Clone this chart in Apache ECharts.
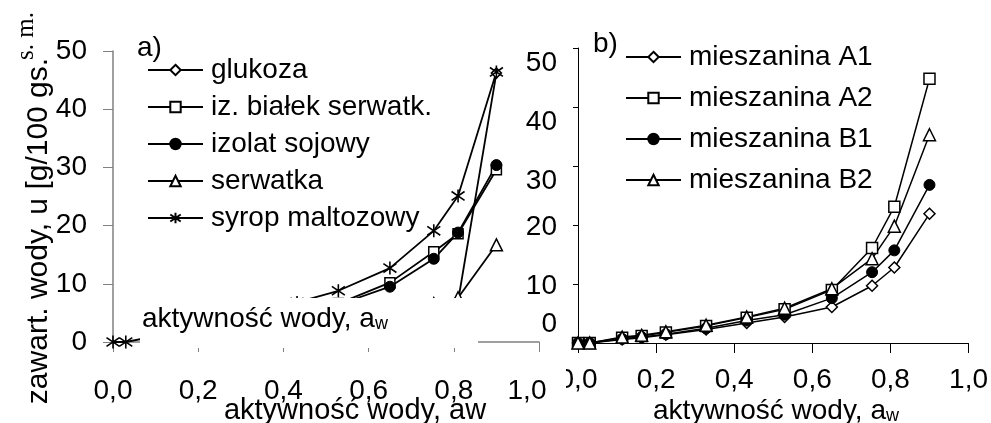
<!DOCTYPE html>
<html>
<head>
<meta charset="utf-8">
<script src="https://cdn.jsdelivr.net/npm/echarts@6/dist/echarts.min.js"></script>
<style>html,body{margin:0;padding:0;background:#fff}#c{width:991px;height:423px}</style>
</head>
<body>
<div id="c"></div>
<script>
// water activity values (x)
const aw = [0, 0.03, 0.113, 0.163, 0.225, 0.328, 0.432, 0.529, 0.65, 0.753, 0.81, 0.90];
const xTicks = ['0,0', '0,2', '0,4', '0,6', '0,8', '1,0'];
const yTicks = [0, 10, 20, 30, 40, 50];

// panel a)
const namesA = ['glukoza', 'iz. białek serwatk.', 'izolat sojowy', 'serwatka', 'syrop maltozowy'];
const glukoza      = [null, null, 0.2, 0.3, 0.4, 0.5, 0.7, 1.0, 1.5, 2.5, 7.0, 46.2];
const izBialek     = [null, null, 2.0, 2.6, 3.4, 4.4, 5.4, 6.6, 10.2, 15.5, 18.6, 29.6];
const izolatSoj    = [null, null, 2.2, 2.8, 3.6, 4.6, 5.6, 6.4, 9.5, 14.3, 18.8, 30.4];
const serwatka     = [null, null, 1.5, 2.0, 2.5, 3.2, 3.9, 4.6, 5.6, 6.6, 7.6, 16.7];
const syrop        = [0, 0, 1.2, 1.8, 2.6, 4.0, 6.8, 8.8, 12.7, 19.1, 25.1, 46.4];

// panel b)
const namesB = ['mieszanina A1', 'mieszanina A2', 'mieszanina B1', 'mieszanina B2'];
const mixA1 = [0, 0, 0.6, 0.9, 1.4, 2.3, 3.4, 4.4, 6.1, 9.7, 12.8, 21.9];
const mixA2 = [0, 0, 0.9, 1.2, 1.8, 2.9, 4.3, 5.7, 9.0, 16.1, 23.1, 44.8];
const mixB1 = [0, 0, 0.7, 1.0, 1.5, 2.5, 3.8, 4.8, 7.6, 12.0, 15.7, 26.8];
const mixB2 = [0, 0, 1.0, 1.3, 1.9, 3.0, 4.4, 5.9, 9.2, 14.3, 19.8, 35.3];

const FONT = 'Liberation Sans';
const STAR = 'path://M5,0 L5,10 M0.6,1.6 L9.4,8.4 M0.6,8.4 L9.4,1.6';

function pairs(ys) { return aw.map((x, i) => [x, ys[i]]); }

const symOpen = (sym, size) => ({ symbol: sym, symbolSize: size, itemStyle: { color: '#fff', borderColor: '#000', borderWidth: 1.5 } });
const symFill = (sym, size) => ({ symbol: sym, symbolSize: size, itemStyle: { color: '#000', borderColor: '#000', borderWidth: 1 } });
const symStar = (size) => ({ symbol: STAR, symbolSize: size, itemStyle: { color: 'none', borderColor: '#000', borderWidth: 1.6 } });

function mk(name, ys, grid, sym, lw) {
  return Object.assign({
    type: 'line', name: name, xAxisIndex: grid, yAxisIndex: grid,
    data: pairs(ys), showAllSymbol: true, connectNulls: false,
    lineStyle: { color: '#000', width: lw }, animation: false,
    emphasis: { disabled: true }
  }, sym);
}

const series = [
  mk(namesA[0], glukoza, 0, symOpen('diamond', 10), 1.8),
  mk(namesA[1], izBialek, 0, symOpen('rect', 10), 1.8),
  mk(namesA[2], izolatSoj, 0, symFill('circle', 11), 1.8),
  mk(namesA[3], serwatka, 0, symOpen('triangle', 12), 1.8),
  mk(namesA[4], syrop, 0, symStar(13), 1.8),
  mk(namesB[0], mixA1, 1, symOpen('diamond', 11), 1.5),
  mk(namesB[1], mixA2, 1, symOpen('rect', 11), 1.5),
  mk(namesB[2], mixB1, 1, symFill('circle', 11), 1.5),
  mk(namesB[3], mixB2, 1, symOpen('triangle', 12), 1.5)
];

const chart = echarts.init(document.getElementById('c'), null, { renderer: 'canvas' });
chart.setOption({
  backgroundColor: '#fff',
  animation: false,
  textStyle: { fontFamily: FONT },
  grid: [
    { left: 113, top: 51, width: 426, height: 291 },
    { left: 578, top: 48, width: 393, height: 295 }
  ],
  xAxis: [
    { gridIndex: 0, type: 'value', min: 0, max: 1, interval: 0.2,
      axisLine: { lineStyle: { color: '#808080', width: 1.5 } },
      axisTick: { length: 10, lineStyle: { color: '#808080' } },
      splitLine: { show: false },
      axisLabel: {
        formatter: v => { const t = xTicks[Math.round(v * 5)]; return v >= 1 ? '{e|' + t + '}' : t; },
        fontSize: 28, color: '#000', fontFamily: FONT, margin: 35,
        rich: { e: { fontSize: 28, fontFamily: FONT, color: '#000', padding: [0, 24, 0, 0] } } } },
    { gridIndex: 1, type: 'value', min: 0, max: 1, interval: 0.2,
      axisLine: { lineStyle: { color: '#000', width: 1 } },
      axisTick: { length: 10, lineStyle: { color: '#000' } },
      splitLine: { show: false },
      axisLabel: { formatter: v => xTicks[Math.round(v * 5)], fontSize: 28, color: '#000', fontFamily: FONT, margin: 23 } }
  ],
  yAxis: [
    { gridIndex: 0, type: 'value', min: 0, max: 50, interval: 10,
      axisLine: { show: true, lineStyle: { color: '#808080', width: 1.5 } },
      axisTick: { show: true, length: 10, lineStyle: { color: '#808080' } },
      splitLine: { show: false },
      axisLabel: { formatter: v => String(yTicks[Math.round(v / 10)]), fontSize: 28, color: '#000', fontFamily: FONT, margin: 26 } },
    { gridIndex: 1, type: 'value', min: 0, max: 50, interval: 10,
      axisLine: { show: true, lineStyle: { color: '#000', width: 1 } },
      axisTick: { show: true, length: 5, lineStyle: { color: '#000' } },
      splitLine: { show: false },
      axisLabel: {
        formatter: v => { const t = String(yTicks[Math.round(v / 10)]); return v >= 30 ? '{d|' + t + '}' : (v === 0 ? '{u|' + t + '}' : '{n|' + t + '}'); },
        fontSize: 28, color: '#000', fontFamily: FONT, margin: 21,
        rich: {
          d: { fontSize: 28, fontFamily: FONT, color: '#000', padding: [30, 0, 0, 0] },
          n: { fontSize: 28, fontFamily: FONT, color: '#000', padding: [4, 0, 0, 0] },
          u: { fontSize: 28, fontFamily: FONT, color: '#000', padding: [0, 0, 38, 0] }
        } } }
  ],
  legend: [
    { data: namesA, orient: 'vertical', left: 147, top: 56, itemWidth: 55, itemHeight: 13, itemGap: 9, padding: 0,
      selectedMode: false, textStyle: { fontSize: 28, color: '#000', fontFamily: FONT, padding: [0, 0, 0, 3] } },
    { data: namesB, orient: 'vertical', left: 625, top: 43, itemWidth: 55, itemHeight: 13, itemGap: 13, padding: 0,
      selectedMode: false, textStyle: { fontSize: 28, color: '#000', fontFamily: FONT, padding: [0, 0, 0, 3] } }
  ],
  graphic: [
    { type: 'text', left: 137, top: 34, z: 50, style: { text: 'a)', fontSize: 28, fontFamily: FONT, fill: '#000' } },
    { type: 'text', left: 593, top: 30, z: 50, style: { text: 'b)', fontSize: 28, fontFamily: FONT, fill: '#000' } },
    { type: 'text', x: 39, y: 231, rotation: Math.PI / 2, z: 50,
      style: { text: 'zawart. wody, u [g/100 gs.', fontSize: 30, fontFamily: FONT, fill: '#000', align: 'center', verticalAlign: 'middle' } },
    { type: 'text', x: 26, y: 36, rotation: Math.PI / 2, z: 50,
      style: { text: 's. m.', fontSize: 25, fontFamily: 'Liberation Serif', fill: '#000', align: 'center', verticalAlign: 'middle' } },
    { type: 'rect', shape: { x: 140, y: 298, width: 338, height: 50 }, z: 100, style: { fill: '#fff' } },
    { type: 'rect', shape: { x: 553, y: 364, width: 13, height: 34 }, z: 100, style: { fill: '#fff' } },
    { type: 'text', x: 142, y: 319, z: 101,
      style: { text: '{m|aktywność wody, a}{s|w}', align: 'left', verticalAlign: 'middle',
        rich: { m: { fontSize: 28, fontFamily: FONT, fill: '#000' }, s: { fontSize: 18, fontFamily: FONT, fill: '#000', padding: [10, 0, 0, 0] } } } },
    { type: 'text', x: 355, y: 411, z: 50,
      style: { text: 'aktywność wody, aw', fontSize: 29, fontFamily: FONT, fill: '#000', align: 'center', verticalAlign: 'middle' } },
    { type: 'text', x: 776, y: 411, z: 50,
      style: { text: '{m|aktywność wody, a}{s|w}', align: 'center', verticalAlign: 'middle',
        rich: { m: { fontSize: 28, fontFamily: FONT, fill: '#000' }, s: { fontSize: 18, fontFamily: FONT, fill: '#000', padding: [10, 0, 0, 0] } } } }
  ],
  series: series
});
</script>
</body>
</html>
